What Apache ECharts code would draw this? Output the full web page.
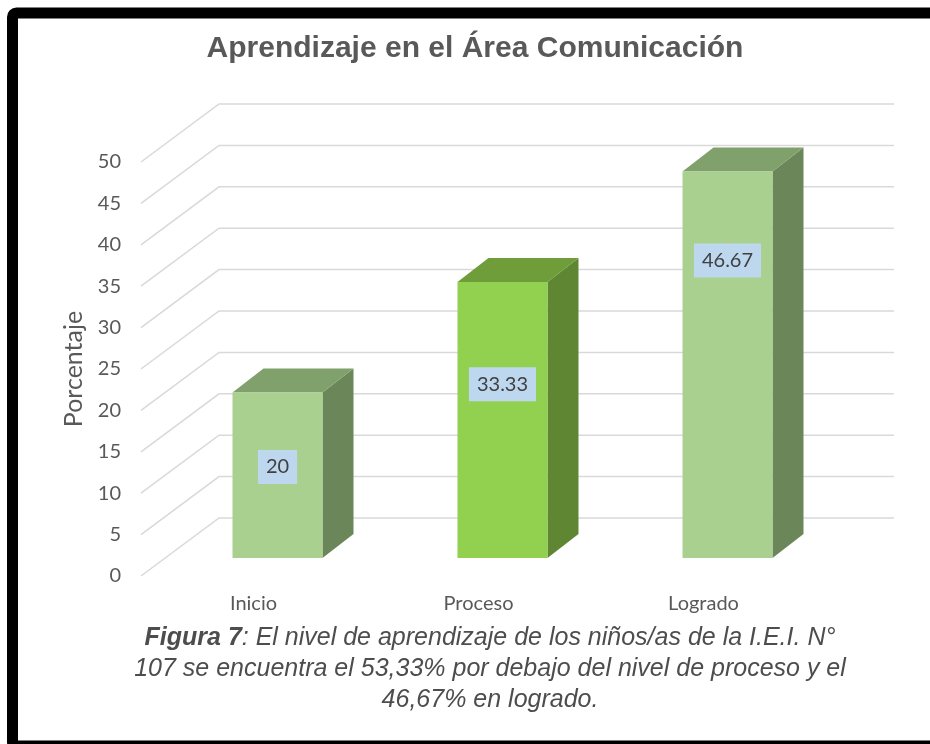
<!DOCTYPE html>
<html>
<head>
<meta charset="utf-8">
<script src="https://cdn.jsdelivr.net/npm/echarts@6/dist/echarts.min.js"></script>
<style>
  html, body { margin: 0; padding: 0; background: #fff; }
  #chart { width: 930px; height: 744px; }
</style>
</head>
<body>
<div id="chart"></div>
<script>
// data
const categories = ['Inicio', 'Proceso', 'Logrado']
const values = [20, 33.33, 46.67]
const yTicks = [0, 5, 10, 15, 20, 25, 30, 35, 40, 45, 50]
const titleText = 'Aprendizaje en el Área Comunicación'
const axisName = 'Porcentaje'
const captionLines = [
  '{b|Figura 7}: El nivel de aprendizaje de los niños/as de la I.E.I. N°',
  '107 se encuentra el 53,33% por debajo del nivel de proceso y el',
  '46,67% en logrado.'
]

// styles
const frontColors = ['#a9d08e', '#92d050', '#a9d08e']
const sideColors = ['#6b8759', '#5f8733', '#6b8759']
const topColors = ['#80a06c', '#6f9d39', '#80a06c']
const labelLift = [0.55, 0.63, 0.77]  // where the value box sits on each bar face

// oblique 3d projection
const WALL_DX = 78, WALL_DY = -58   // back wall offset
const BAR_DX = 24, BAR_DY = -18     // bar front face offset
const DEPTH_DX = 31, DEPTH_DY = -24 // bar depth
const calibri = 'Lato, "Open Sans", sans-serif'
const arial = '"Liberation Sans", Arial, sans-serif'

const chart = echarts.init(document.getElementById('chart'))

// back wall grid lines
function renderWall(params, api) {
  const cs = params.coordSys
  const y = api.coord([0, api.value(1)])[1]
  return {
    type: 'polyline',
    silent: true,
    shape: {
      points: [
        [cs.x, y],
        [cs.x + WALL_DX, y + WALL_DY],
        [cs.x + cs.width + WALL_DX, y + WALL_DY]
      ]
    },
    style: { stroke: '#d9d9d9', lineWidth: 1.5, fill: null }
  }
}

// 3d columns
function renderBar(params, api) {
  const i = api.value(0)
  const v = api.value(1)
  const base = api.coord([i, 0])
  const top = api.coord([i, v])
  const w = api.size([1, 0])[0] * 0.4
  const x0 = base[0] + BAR_DX - w / 2
  const yb = base[1] + BAR_DY
  const yt = top[1] + BAR_DY
  const x1 = x0 + w
  return {
    type: 'group',
    children: [
      {
        type: 'polygon',
        shape: { points: [[x1, yb], [x1 + DEPTH_DX, yb + DEPTH_DY], [x1 + DEPTH_DX, yt + DEPTH_DY], [x1, yt]] },
        style: { fill: sideColors[i] }
      },
      {
        type: 'polygon',
        shape: { points: [[x0, yt], [x0 + DEPTH_DX, yt + DEPTH_DY], [x1 + DEPTH_DX, yt + DEPTH_DY], [x1, yt]] },
        style: { fill: topColors[i] }
      },
      {
        type: 'rect',
        shape: { x: x0, y: yt, width: w, height: yb - yt },
        style: { fill: frontColors[i] }
      },
      {
        type: 'text',
        x: x0 + w / 2,
        y: yb - (yb - yt) * labelLift[i],
        style: {
          text: String(values[i]),
          fontFamily: calibri,
          fontSize: 20,
          fill: '#404040',
          align: 'center',
          verticalAlign: 'middle',
          backgroundColor: '#bdd7ee',
          padding: [7, 8, 7, 8]
        }
      }
    ]
  }
}

const option = {
  backgroundColor: '#fff',
  animation: false,
  title: {
    text: titleText,
    left: 470,
    top: 29,
    textAlign: 'center',
    textStyle: { fontFamily: arial, fontWeight: 'bold', fontSize: 30, color: '#595959' }
  },
  grid: { left: 141, top: 162, width: 675, height: 414 },
  xAxis: {
    type: 'category',
    data: categories,
    axisLine: { show: false },
    axisTick: { show: false },
    axisLabel: { fontFamily: calibri, fontSize: 20, color: '#595959', margin: 18 }
  },
  yAxis: {
    type: 'value',
    min: 0,
    max: 50,
    interval: 5,
    name: axisName,
    nameLocation: 'middle',
    nameRotate: 90,
    nameGap: 54,
    nameTextStyle: { fontFamily: calibri, fontSize: 25, color: '#595959' },
    axisLine: { show: false },
    axisTick: { show: false },
    splitLine: { show: false },
    axisLabel: { fontFamily: calibri, fontSize: 20, color: '#595959', margin: 20 }
  },
  series: [
    {
      type: 'custom',
      renderItem: renderWall,
      data: yTicks.map(v => [0, v]),
      encode: { x: 0, y: 1 },
      silent: true,
      z: 1
    },
    {
      type: 'custom',
      renderItem: renderBar,
      data: values.map((v, i) => [i, v]),
      encode: { x: 0, y: 1 },
      z: 2
    }
  ],
  graphic: [
    ...captionLines.map((line, k) => ({
      type: 'text',
      x: 490,
      y: 638 + k * 31,
      style: {
        text: line,
        fontFamily: arial,
        fontStyle: 'italic',
        fontSize: 25,
        fill: '#4d4d4d',
        align: 'center',
        verticalAlign: 'middle',
        rich: {
          b: { fontFamily: arial, fontStyle: 'italic', fontWeight: 'bold', fontSize: 25, fill: '#4d4d4d' }
        }
      }
    })),
    {
      type: 'rect',
      shape: { x: 12.5, y: 13, width: 940, height: 733, r: 4 },
      style: { fill: null, stroke: '#000', lineWidth: 11 },
      z: 100
    }
  ]
}

chart.setOption(option)
</script>
</body>
</html>
